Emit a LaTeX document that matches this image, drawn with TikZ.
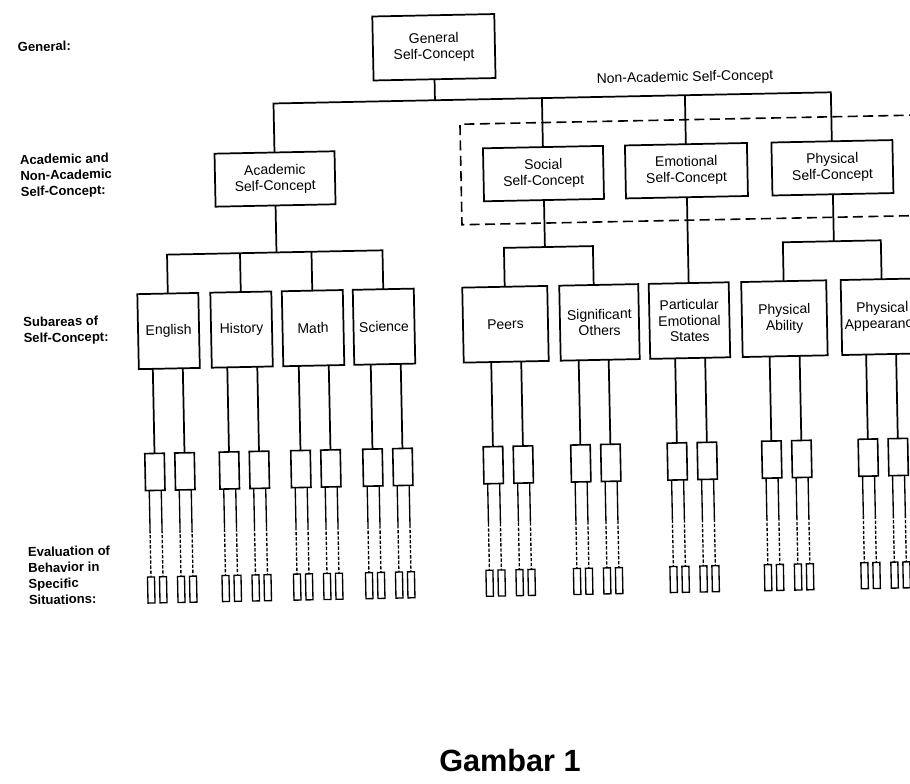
\documentclass[tikz,border=0pt]{standalone}
\usepackage{fontspec}
\setmainfont{Liberation Sans}
\usetikzlibrary{calc}
\newcommand\mkbranches[2]{%
 \foreach \s [count=\k] in {-15,15}{%
   \pgfmathsetmacro\cx{#2+\s}%
   \coordinate (#1-o\k) at (\cx,362.8);
   \node[midbox] (#1-m\k) at (\cx,466) {};
   \draw[conn] (#1-o\k) -- (#1-m\k.north);
   \foreach \t [count=\j] in {-6,6}{%
     \pgfmathsetmacro\tx{\cx+\t}%
     \coordinate (#1-a\k\j) at (\tx,484.5);
     \coordinate (#1-d\k\j) at (\tx,524);
     \node[tinybox] (#1-t\k\j) at (\tx,584) {};
     \draw[stemline] (#1-a\k\j) -- (#1-d\k\j);
     \draw[stemdash] (#1-d\k\j) -- (#1-t\k\j.north);
   }%
 }%
}
\begin{document}
\begin{tikzpicture}[x=0.75pt,y=-0.75pt,
  every node/.style={inner sep=0pt, outer sep=0pt},
  bx/.style={draw, line width=1.3pt, align=center, font=\fontsize{10.5pt}{12pt}\selectfont, transform shape},
  lvlbox/.style={bx, minimum height=39.75pt},
  subbox/.style={bx, minimum height=56.25pt},
  midbox/.style={draw, line width=1.2pt, minimum width=14.6pt, minimum height=27.75pt, transform shape},
  tinybox/.style={draw, line width=1pt, minimum width=5.25pt, minimum height=19.5pt, transform shape},
  conn/.style={line width=1.3pt},
  stemline/.style={line width=1pt},
  stemdash/.style={line width=1pt, dash pattern=on 2.5pt off 1.3pt},
  grpdash/.style={line width=1.2pt, dash pattern=on 7.5pt off 4pt},
  sidelabel/.style={font=\bfseries\fontsize{9.8pt}{12pt}\selectfont, align=left, anchor=west, transform shape},
  plainlabel/.style={font=\fontsize{10.5pt}{12pt}\selectfont, transform shape},
]
\fill[white] (0,0) rectangle (910,784);
\useasboundingbox (0,0) rectangle (910,784);
\clip (0,0) rectangle (910,784);

\begin{scope}[rotate around={1.15:(450,400)}]
% side labels
\node[sidelabel] (lg) at (25,38.4) {General:};
\node[sidelabel] (la) at (25,168.4) {Academic and\\Non-Academic\\Self-Concept:};
\node[sidelabel] (ls) at (25,323) {Subareas of\\Self-Concept:};
\node[sidelabel] (le) at (25,567.6) {Evaluation of\\Behavior in\\Specific\\Situations:};

% level 1
\node[bx, minimum width=91.5pt, minimum height=48pt] (gen) at (441,47) {General\\Self-Concept};
\node[plainlabel] (nal) at (691.4,82.7) {Non-Academic Self-Concept};

% level 2
\node[lvlbox, minimum width=90pt] (acad) at (279.5,175.5) {Academic\\Self-Concept};
\node[lvlbox, minimum width=90pt] (soc) at (548,175.5) {Social\\Self-Concept};
\node[lvlbox, minimum width=91.5pt] (emo) at (691,175.5) {Emotional\\Self-Concept};
\node[lvlbox, minimum width=90.75pt] (phy) at (837,175.5) {Physical\\Self-Concept};

\coordinate (jA) at (279.5,100);
\coordinate (jG) at (441,100);
\coordinate (jS) at (548,100);
\coordinate (jE) at (691,100);
\coordinate (jP) at (837,100);
\draw[conn] (gen.south) -- (jG);
\draw[conn] (acad.north) -- (jA) -- (jP) -- (phy.north);
\draw[conn] (jS) -- (soc.north);
\draw[conn] (jE) -- (emo.north);

% non-academic group
\draw[grpdash] (940,124.5) -- (465.5,124.5) -- (465.5,225) -- (940,225);

% level 3
\node[subbox, minimum width=45.75pt] (eng) at (170,325.4) {English};
\node[subbox, minimum width=45.75pt] (his) at (243,325.4) {History};
\node[subbox, minimum width=45.75pt] (mat) at (314.5,325.4) {Math};
\node[subbox, minimum width=45.75pt] (sci) at (385.5,325.4) {Science};
\node[subbox, minimum width=63.75pt] (peer) at (507,325.4) {Peers};
\node[subbox, minimum width=59.25pt] (sig) at (601,325.4) {Significant\\Others};
\node[subbox, minimum width=60pt] (part) at (691,325.4) {Particular\\Emotional\\States};
\node[subbox, minimum width=63.75pt] (abil) at (786,325.4) {Physical\\Ability};
\node[subbox, minimum width=61.5pt] (appr) at (884,325.4) {Physical\\Appearance};

\coordinate (jAc) at (279.5,249);
\coordinate (jEn) at (170,249);
\coordinate (jHi) at (243,249);
\coordinate (jMa) at (314.5,249);
\coordinate (jSc) at (385.5,249);
\draw[conn] (acad.south) -- (jAc);
\draw[conn] (eng.north) -- (jEn) -- (jSc) -- (sci.north);
\draw[conn] (jHi) -- (his.north);
\draw[conn] (jMa) -- (mat.north);

\coordinate (jSo) at (548,249);
\coordinate (jPe) at (507,249);
\coordinate (jSi) at (596,249);
\coordinate (sigtop) at (596,287.9);
\draw[conn] (soc.south) -- (jSo);
\draw[conn] (peer.north) -- (jPe) -- (jSi) -- (sigtop);

\draw[conn] (emo.south) -- (part.north);

\coordinate (jPh) at (837,249);
\coordinate (jAb) at (786,249);
\coordinate (jAp) at (884,249);
\draw[conn] (phy.south) -- (jPh);
\draw[conn] (abil.north) -- (jAb) -- (jAp) -- (appr.north);

% specific behaviours
\mkbranches{eng}{168.5}
\mkbranches{his}{243}
\mkbranches{mat}{314.5}
\mkbranches{sci}{386.5}
\mkbranches{peer}{507}
\mkbranches{sig}{594.5}
\mkbranches{part}{691}
\mkbranches{abil}{785.5}
\mkbranches{appr}{882}
\end{scope}

\node[font=\bfseries\fontsize{23pt}{27pt}\selectfont] (cap) at (510,761) {Gambar 1};
\end{tikzpicture}
\end{document}
